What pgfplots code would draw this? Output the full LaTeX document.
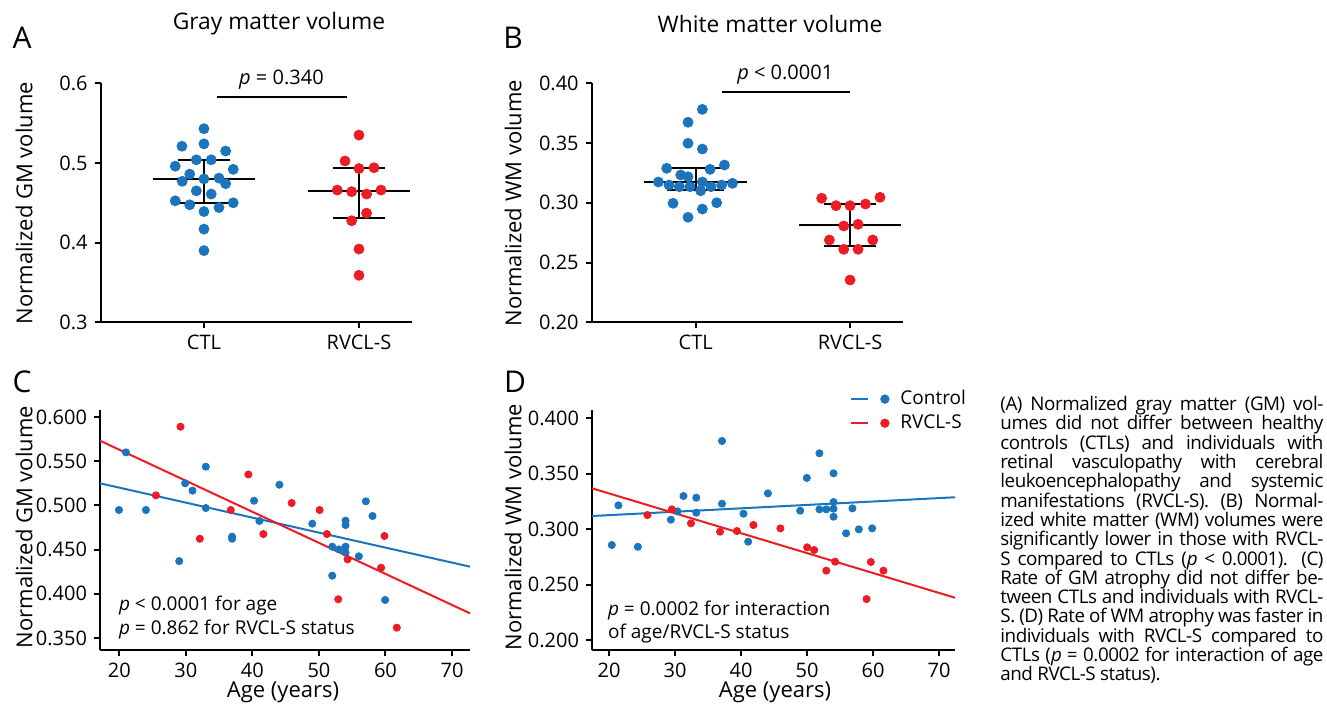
\documentclass[border=0pt]{standalone}
\usepackage{pgfplots}
\pgfplotsset{compat=1.18}
\usepackage{fontspec}
\setmainfont{Open Sans}
\definecolor{cblue}{RGB}{28,117,188}
\definecolor{cred}{RGB}{237,28,36}
\pgfplotsset{
  panel/.style={
    scale only axis,
    anchor=south west,
    axis x line*=bottom,
    axis y line*=left,
    axis line style={line width=1pt,-},
    every tick/.style={black,line width=1pt},
    tick align=outside,
    major tick length=3pt,
    tick label style={font=\fontsize{10}{12}\selectfont},
    /pgf/number format/assume math mode=true,
    clip=false,
  },
  dotA/.style={only marks, mark=*, mark size=2.5pt, #1, mark options={fill=#1,draw=#1}},
  dotC/.style={only marks, mark=*, mark size=1.8pt, #1, mark options={fill=#1,draw=#1}},
  seg/.style={black, line width=1pt, forget plot},
}
\begin{document}
\begin{tikzpicture}
\path[use as bounding box] (0pt,0pt) rectangle (663.5pt,-354.5pt);
% ---------------- A ----------------
\begin{axis}[panel, at={(50.35pt,-161.15pt)}, width=155.65pt, height=119.5pt,
  xmin=-0.666, xmax=1.342, ymin=0.3, ymax=0.6,
  xtick={0,1}, xticklabels={CTL,RVCL-S},
  ytick={0.3,0.4,0.5,0.6},
  yticklabel style={/pgf/number format/.cd,fixed,fixed zerofill,precision=1},
]
\addplot[dotA=cblue] coordinates {
(0,0.543) (-0.142,0.521) (0,0.524) (0.14,0.515) (-0.049,0.504) (0.047,0.504)
(-0.185,0.496) (0.189,0.492) (-0.092,0.486) (-0.14,0.477) (0,0.480) (0.097,0.481)
(0.14,0.474) (-0.049,0.465) (0.047,0.461) (-0.185,0.4525) (-0.092,0.4475) (0,0.439)
(0.097,0.444) (0.189,0.450) (0,0.417) (0,0.390)};
\addplot[dotA=cred] coordinates {
(1,0.535) (0.91,0.5025) (1,0.493) (1.097,0.494) (0.86,0.466) (0.953,0.464)
(1.049,0.461) (1.142,0.466) (1.049,0.437) (0.953,0.4275) (1,0.392) (1,0.359)};
\addplot[seg] coordinates {(-0.33,0.480) (0.33,0.480)};
\addplot[seg] coordinates {(0,0.450) (0,0.504)};
\addplot[seg] coordinates {(-0.165,0.504) (0.165,0.504)};
\addplot[seg] coordinates {(-0.165,0.450) (0.165,0.450)};
\addplot[seg] coordinates {(0.67,0.465) (1.33,0.465)};
\addplot[seg] coordinates {(1,0.431) (1,0.494)};
\addplot[seg] coordinates {(0.835,0.494) (1.165,0.494)};
\addplot[seg] coordinates {(0.835,0.431) (1.165,0.431)};
\addplot[seg] coordinates {(0.082,0.5825) (0.92,0.5825)};
\node[font=\fontsize{10}{12}\selectfont] at (axis cs:0.5,0.604) {\textit{p} = 0.340};
\end{axis}
% ---------------- B ----------------
\begin{axis}[panel, at={(295.85pt,-161.15pt)}, width=155.65pt, height=119.5pt,
  xmin=-0.674, xmax=1.343, ymin=0.2, ymax=0.4,
  xtick={0,1}, xticklabels={CTL,RVCL-S},
  ytick={0.2,0.25,0.3,0.35,0.4},
  yticklabel style={/pgf/number format/.cd,fixed,fixed zerofill,precision=2},
]
\addplot[dotA=cblue] coordinates {
(0.043,0.3782) (-0.05,0.3674) (-0.05,0.3498) (0.043,0.3450) (-0.188,0.3289)
(0.093,0.3280) (0.186,0.3316) (-0.097,0.3233) (-0.05,0.3218) (-0.242,0.3174)
(-0.173,0.3149) (-0.106,0.3135) (-0.037,0.3135) (0.043,0.3174) (0.099,0.3135)
(0.168,0.3149) (0.238,0.3163) (0.032,0.3101) (-0.147,0.2996) (0.136,0.3001)
(0.043,0.2948) (-0.05,0.2879)};
\addplot[dotA=cred] coordinates {
(0.816,0.3038) (1.194,0.3046) (0.909,0.2976) (1.0,0.2976) (1.10,0.2990)
(0.959,0.2806) (1.052,0.2820) (0.866,0.2689) (1.147,0.2689) (0.959,0.2611)
(1.052,0.2611) (1.0,0.2354)};
\addplot[seg] coordinates {(-0.333,0.3174) (0.333,0.3174)};
\addplot[seg] coordinates {(0,0.311) (0,0.3294)};
\addplot[seg] coordinates {(-0.184,0.3294) (0.184,0.3294)};
\addplot[seg] coordinates {(-0.184,0.311) (0.184,0.311)};
\addplot[seg] coordinates {(0.67,0.2817) (1.33,0.2817)};
\addplot[seg] coordinates {(1,0.2638) (1,0.299)};
\addplot[seg] coordinates {(0.834,0.299) (1.166,0.299)};
\addplot[seg] coordinates {(0.834,0.2638) (1.166,0.2638)};
\addplot[seg] coordinates {(0.168,0.3925) (1.0,0.3925)};
\node[font=\fontsize{10}{12}\selectfont] at (axis cs:0.58,0.407) {\textit{p} < 0.0001};
\end{axis}
% ---------------- C ----------------
\begin{axis}[panel, at={(50pt,-325pt)}, width=185pt, height=120pt,
  xmin=17.1, xmax=72.7, ymin=0.3364, ymax=0.6079,
  xtick={20,30,...,70},
  ytick={0.35,0.4,0.45,0.5,0.55,0.6},
  yticklabel style={/pgf/number format/.cd,fixed,fixed zerofill,precision=3},
]
\addplot[dotC=cblue] coordinates {
(19.95,0.4948) (21.0,0.560) (24.0,0.4948) (29.0,0.437) (29.9,0.525) (31.0,0.5167)
(33.0,0.5438) (33.0,0.497) (36.95,0.4646) (36.95,0.4623) (40.25,0.5053) (41.05,0.4824)
(44.06,0.5234) (49.0,0.4793) (52.0,0.4533) (53.0,0.4503) (54.0,0.4533) (54.0,0.4827)
(54.0,0.4778) (54.0,0.4465) (52.0,0.4205) (56.0,0.4424) (57.05,0.5046) (58.05,0.488)
(59.95,0.393)};
\addplot[dotC=cred] coordinates {
(29.2,0.589) (25.5,0.5114) (32.1,0.4623) (36.75,0.4948) (39.4,0.535) (41.65,0.4676)
(45.9,0.5027) (50.1,0.4948) (51.2,0.4676) (54.3,0.439) (52.9,0.3938) (59.35,0.4295)
(59.85,0.4654) (61.7,0.3617)};
\addplot[cblue, line width=1pt] coordinates {(17.1,0.525) (72.7,0.4307)};
\addplot[cred, line width=1pt] coordinates {(17.1,0.5732) (72.7,0.3779)};
\end{axis}
% ---------------- D ----------------
\begin{axis}[panel, at={(296pt,-325pt)}, width=181.5pt, height=120pt,
  xmin=17.4, xmax=72.4, ymin=0.191, ymax=0.4072,
  xtick={20,30,...,70},
  ytick={0.2,0.25,0.3,0.35,0.4},
  yticklabel style={/pgf/number format/.cd,fixed,fixed zerofill,precision=3},
  legend style={at={(0.711,1.10)}, anchor=north west, draw=none, fill=none,
    inner sep=0pt, font=\fontsize{9.5}{11}\selectfont, row sep=-0.5pt},
  legend cell align=left,
  legend image code/.code={\draw[#1,line width=1pt] (0pt,0pt) -- (8.3pt,0pt);
    \fill[#1] (16.7pt,0pt) circle (1.8pt); \path (22pt,0pt);},
]
\addplot[dotC=cblue, forget plot] coordinates {
(20.4,0.2856) (21.4,0.3213) (24.35,0.284) (29.35,0.3084) (30.35,0.3159) (31.26,0.3297)
(33.2,0.3282) (33.2,0.3147) (37.1,0.3793) (37.1,0.3228) (40.35,0.3138) (41.06,0.2886)
(44.05,0.3321) (48.94,0.3165) (49.95,0.346) (51.86,0.3682) (51.86,0.3177) (52.9,0.3177)
(54.0,0.3502) (54.0,0.3243) (54.0,0.3183) (54.0,0.3111) (55.9,0.2961) (56.86,0.3186)
(57.83,0.2997) (59.85,0.3006)};
\addplot[dotC=cred, forget plot] coordinates {
(25.8,0.3126) (29.5,0.3177) (32.4,0.3051) (36.8,0.2976) (39.35,0.2982) (41.86,0.3036)
(45.95,0.3006) (50.0,0.2835) (51.06,0.2811) (52.9,0.2625) (54.24,0.2706) (59.0,0.2369)
(59.65,0.2703) (61.56,0.2625)};
\addplot[cblue, line width=1pt] coordinates {(17.4,0.3117) (72.4,0.3286)};
\addlegendentry{Control}
\addplot[cred, line width=1pt] coordinates {(17.4,0.3367) (72.4,0.2381)};
\addlegendentry{RVCL-S}
\end{axis}
% ---------------- texts ----------------
\begin{scope}[x=0.5pt,y=-0.5pt]
\node[font=\fontsize{15}{18}\selectfont] at (22,38) {A};
\node[font=\fontsize{15}{18}\selectfont] at (513,38) {B};
\node[font=\fontsize{15}{18}\selectfont] at (22,382) {C};
\node[font=\fontsize{15}{18}\selectfont] at (515,382) {D};
\node[font=\fontsize{11.4}{13}\selectfont] at (279,24) {Gray matter volume};
\node[font=\fontsize{11.4}{13}\selectfont] at (770,24) {White matter volume};
\node[font=\fontsize{11}{13}\selectfont, rotate=90] at (24,203) {Normalized GM volume};
\node[font=\fontsize{11}{13}\selectfont, rotate=90] at (513,203) {Normalized WM volume};
\node[font=\fontsize{11}{13}\selectfont, rotate=90] at (24,527) {Normalized GM volume};
\node[font=\fontsize{11}{13}\selectfont, rotate=90] at (513,527) {Normalized WM volume};
\node[font=\fontsize{11}{13}\selectfont] at (283,692) {Age (years)};
\node[font=\fontsize{11}{13}\selectfont] at (775,692) {Age (years)};
\node[font=\fontsize{9.5}{11}\selectfont, anchor=west] at (112,605) {\textit{p} < 0.0001 for age};
\node[font=\fontsize{9.5}{11}\selectfont, anchor=west] at (112,629) {\textit{p} = 0.862 for RVCL-S status};
\node[font=\fontsize{9.5}{11}\selectfont, anchor=west] at (601,610) {\textit{p} = 0.0002 for interaction};
\node[font=\fontsize{9.5}{11}\selectfont, anchor=west] at (601,633) {of age/RVCL-S status};
\node[anchor=north west, inner sep=0pt] at (1000,396) {\begin{minipage}[t]{161.5pt}\fontsize{9.4}{9.65}\selectfont\addfontfeatures{LetterSpace=-2.5}%
\makebox[161.5pt][s]{(A) Normalized gray matter (GM) vol-}\\
\makebox[161.5pt][s]{umes did not differ between healthy}\\
\makebox[161.5pt][s]{controls (CTLs) and individuals with}\\
\makebox[161.5pt][s]{retinal vasculopathy with cerebral}\\
\makebox[161.5pt][s]{leukoencephalopathy and systemic}\\
\makebox[161.5pt][s]{manifestations (RVCL-S). (B) Normal-}\\
\makebox[161.5pt][s]{ized white matter (WM) volumes were}\\
\makebox[161.5pt][s]{significantly lower in those with RVCL-}\\
\makebox[161.5pt][s]{S compared to CTLs (\textit{p} < 0.0001). (C)}\\
\makebox[161.5pt][s]{Rate of GM atrophy did not differ be-}\\
\makebox[161.5pt][s]{tween CTLs and individuals with RVCL-}\\
\makebox[161.5pt][s]{S. (D) Rate of WM atrophy was faster in}\\
\makebox[161.5pt][s]{individuals with RVCL-S compared to}\\
\makebox[161.5pt][s]{CTLs (\textit{p} = 0.0002 for interaction of age}\\
and RVCL-S status).
\end{minipage}};
\end{scope}
\end{tikzpicture}
\end{document}
